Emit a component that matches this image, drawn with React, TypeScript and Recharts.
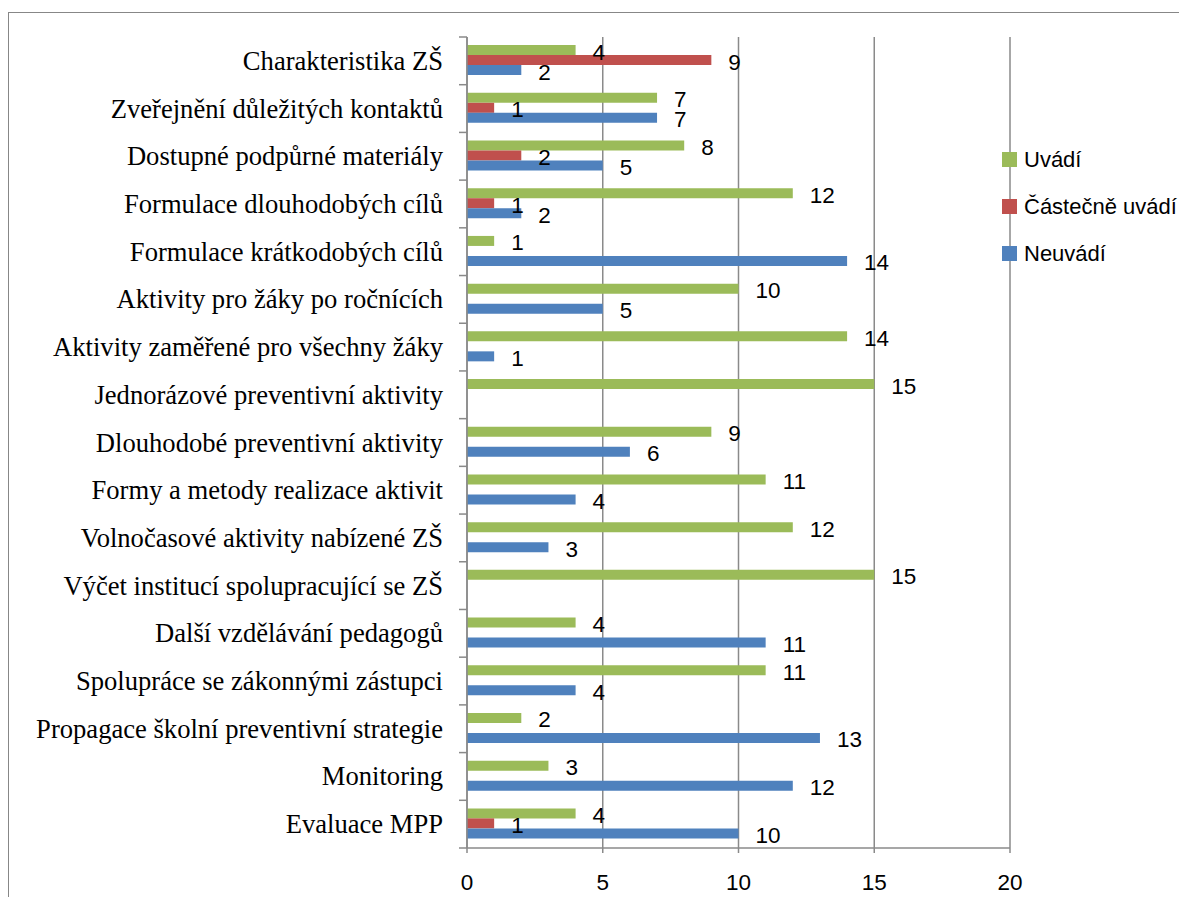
import { BarChart, Bar, XAxis, YAxis, CartesianGrid, LabelList } from 'recharts';

// Sections of the prevention plan, top to bottom
const categories = [
  'Charakteristika ZŠ',
  'Zveřejnění důležitých kontaktů',
  'Dostupné podpůrné materiály',
  'Formulace dlouhodobých cílů',
  'Formulace krátkodobých cílů',
  'Aktivity pro žáky po ročnících',
  'Aktivity zaměřené pro všechny žáky',
  'Jednorázové preventivní aktivity',
  'Dlouhodobé preventivní aktivity',
  'Formy a metody realizace aktivit',
  'Volnočasové aktivity nabízené ZŠ',
  'Výčet institucí spolupracující se ZŠ',
  'Další vzdělávání pedagogů',
  'Spolupráce se zákonnými zástupci',
  'Propagace školní preventivní strategie',
  'Monitoring',
  'Evaluace MPP',
];

// null = nothing reported for that section
const uvadi = [4, 7, 8, 12, 1, 10, 14, 15, 9, 11, 12, 15, 4, 11, 2, 3, 4];
const castecneUvadi = [9, 1, 2, 1, null, null, null, null, null, null, null, null, null, null, null, null, 1];
const neuvadi = [2, 7, 5, 2, 14, 5, 1, null, 6, 4, 3, null, 11, 4, 13, 12, 10];

const xTicks = [0, 5, 10, 15, 20];

const series = [
  { key: 'uvadi', name: 'Uvádí', color: '#9BBB59' },
  { key: 'castecne', name: 'Částečně uvádí', color: '#C0504D' },
  { key: 'neuvadi', name: 'Neuvádí', color: '#4F81BD' },
];

const data = categories.map((name, i) => ({
  name,
  uvadi: uvadi[i],
  castecne: castecneUvadi[i],
  neuvadi: neuvadi[i],
}));

const CHART_W = 1178;
const CHART_H = 888;
const MARGIN = { top: 24, right: 177, bottom: 0, left: 0 };
const Y_AXIS_W = 458;
const X_AXIS_H = 53;
const AXIS_X = MARGIN.left + Y_AXIS_W;
const PLOT_H = CHART_H - MARGIN.top - MARGIN.bottom - X_AXIS_H;
const BAND = PLOT_H / categories.length;
const GRID = '#8a8a8a';
const SANS = '"Liberation Sans", Arial, sans-serif';
const SERIF = '"Liberation Serif", "Times New Roman", serif';

// Category label plus Excel-style tick marks on the band boundaries
function CategoryTick(props: any) {
  const { y, payload, index } = props;
  const top = y - BAND / 2;
  const bottom = y + BAND / 2;
  return (
    <g>
      <line x1={AXIS_X - 8} x2={AXIS_X} y1={top} y2={top} stroke={GRID} strokeWidth={1.5} />
      {index === categories.length - 1 && (
        <line x1={AXIS_X - 8} x2={AXIS_X} y1={bottom} y2={bottom} stroke={GRID} strokeWidth={1.5} />
      )}
      <text
        x={AXIS_X - 24}
        y={y}
        textAnchor="end"
        dominantBaseline="central"
        fontFamily={SERIF}
        fontSize={26.6}
        fill="#000"
      >
        {payload.value}
      </text>
    </g>
  );
}

function ValueLabel(props: any) {
  const { x, y, width, height, value } = props;
  if (value == null || value === 0) return null;
  return (
    <text
      x={Number(x) + Number(width) + 17}
      y={Number(y) + Number(height) / 2 + 2}
      dominantBaseline="central"
      fontFamily={SANS}
      fontSize={22.5}
      fill="#000"
    >
      {value}
    </text>
  );
}

export default function App() {
  return (
    <div
      style={{
        position: 'relative',
        top: 4,
        width: CHART_W,
        height: CHART_H,
        borderLeft: '1px solid #878787',
        borderTop: '1px solid #878787',
        background: '#fff',
      }}
    >
      <BarChart
        width={CHART_W}
        height={CHART_H}
        data={data}
        layout="vertical"
        margin={MARGIN}
        barCategoryGap="17%"
        barGap={0}
      >
        <CartesianGrid horizontal={false} stroke={GRID} strokeWidth={1.5} />
        <XAxis
          type="number"
          domain={[0, 20]}
          ticks={xTicks}
          height={X_AXIS_H}
          tickSize={5}
          tickMargin={21}
          axisLine={{ stroke: GRID, strokeWidth: 1.5 }}
          tickLine={{ stroke: GRID, strokeWidth: 1.5 }}
          tick={{ fill: '#000', fontSize: 22.5, fontFamily: SANS }}
          interval={0}
        />
        <YAxis
          type="category"
          dataKey="name"
          width={Y_AXIS_W}
          axisLine={{ stroke: GRID, strokeWidth: 1.5 }}
          tickLine={false}
          tick={(p: any) => <CategoryTick {...p} />}
          interval={0}
        />
        {series.map((s) => (
          <Bar key={s.key} dataKey={s.key} name={s.name} fill={s.color} isAnimationActive={false}>
            <LabelList dataKey={s.key} content={(p: any) => <ValueLabel {...p} />} />
          </Bar>
        ))}
      </BarChart>

      <div style={{ position: 'absolute', left: 993, top: 123, fontFamily: SANS, fontSize: 22, color: '#000' }}>
        {series.map((s) => (
          <div key={s.key} style={{ height: 47, display: 'flex', alignItems: 'center' }}>
            <span style={{ width: 15, height: 15, background: s.color, marginRight: 7, display: 'inline-block' }} />
            <span style={{ whiteSpace: 'nowrap' }}>{s.name}</span>
          </div>
        ))}
      </div>
    </div>
  );
}
